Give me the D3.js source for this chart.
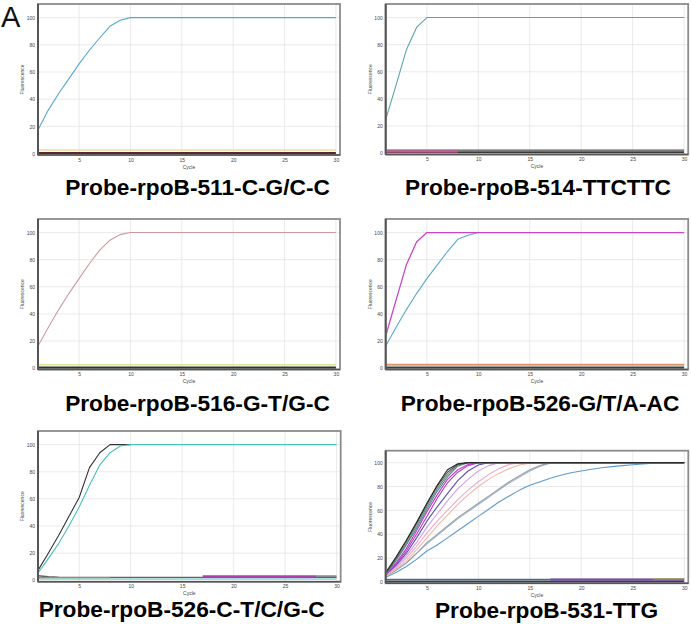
<!DOCTYPE html>
<html><head><meta charset="utf-8">
<script src="https://cdn.jsdelivr.net/npm/d3@7"></script>
<style>html,body{margin:0;padding:0;background:#fff;}svg{display:block;}</style>
</head><body>
<svg id="chart" width="691" height="624"></svg>
<script>
// ---------- data ----------
const cycles = [1,2,3,4,5,6,7,8,9,10,11,12,13,14,15,16,17,18,19,20,21,22,23,24,25,26,27,28,29,30];
const xTicks = [5,10,15,20,25,30];
const yTicks = [0,20,40,60,80,100];
const titles = ["Probe-rpoB-511-C-G/C-C","Probe-rpoB-514-TTCTTC","Probe-rpoB-516-G-T/G-C","Probe-rpoB-526-G/T/A-AC","Probe-rpoB-526-C-T/C/G-C","Probe-rpoB-531-TTG"];
const panelLetter = "A";
const xLabel = "Cycle", yLabel = "Fluorescence";
const _ = null;

// panel 1 (511)
const p1Blue    = [17.4,32,44,55,66,76,85,93.6,98,100,100,100,100,100,100,100,100,100,100,100,100,100,100,100,100,100,100,100,100,100];
const p1Khaki   = [2.8,2.7,2.7,2.7,2.7,2.7,2.7,2.7,2.7,2.7,2.7,2.7,2.7,2.7,2.7,2.7,2.7,2.7,2.7,2.7,2.7,2.7,2.7,2.7,2.7,2.7,2.7,2.7,2.7,2.7];
const p1Maroon  = [0.4,0.4,0.4,0.4,0.4,0.4,0.4,0.4,0.4,0.4,0.4,0.4,0.4,0.4,0.4,0.4,0.4,0.4,0.4,0.4,0.4,0.4,0.4,0.4,0.4,0.4,0.4,0.4,0.4,0.4];
// panel 2 (514)
const p2Teal    = [24.7,50,76,92.7,100,100,100,100,100,100,100,100,100,100,100,100,100,100,100,100,100,100,100,100,100,100,100,100,100,100];
const p2Gray    = [2.2,2.2,2.2,2.2,2.2,2.2,2.2,2.2,2.2,2.2,2.2,2.2,2.2,2.2,2.2,2.2,2.2,2.2,2.2,2.2,2.2,2.2,2.2,2.2,2.2,2.2,2.2,2.2,2.2,2.2];
const p2Dark    = [0.6,0.6,0.6,0.6,0.6,0.6,0.6,0.6,0.6,0.6,0.6,0.6,0.6,0.6,0.6,0.6,0.6,0.6,0.6,0.6,0.6,0.6,0.6,0.6,0.6,0.6,0.6,0.6,0.6,0.6];
const p2Pink    = [1.2,1.2,1.2,1.2,1.2,1.2,1.2,1.2,_,_,_,_,_,_,_,_,_,_,_,_,_,_,_,_,_,_,_,_,_,_];
// panel 3 (516)
const p3Rose    = [16.3,30,43,55,66,77,87,94.4,98.5,100,100,100,100,100,100,100,100,100,100,100,100,100,100,100,100,100,100,100,100,100];
const p3Yellow  = [2.6,2.5,2.5,2.5,2.5,2.5,2.5,2.5,2.5,2.5,2.5,2.5,2.5,2.5,2.5,2.5,2.5,2.5,2.5,2.5,2.5,2.5,2.5,2.5,2.5,2.5,2.5,2.5,2.5,2.5];
const p3Green   = [0.4,0.4,0.4,0.4,0.4,0.4,0.4,0.4,0.4,0.4,0.4,0.4,0.4,0.4,0.4,0.4,0.4,0.4,0.4,0.4,0.4,0.4,0.4,0.4,0.4,0.4,0.4,0.4,0.4,0.4];
// panel 4 (526 G/T/A)
const p4Magenta = [23.7,50,76,93,100,100,100,100,100,100,100,100,100,100,100,100,100,100,100,100,100,100,100,100,100,100,100,100,100,100];
const p4Blue    = [16.3,30,43,55,66,76,86,95,98,100,100,100,100,100,100,100,100,100,100,100,100,100,100,100,100,100,100,100,100,100];
const p4Salmon  = [2.8,2.8,2.8,2.8,2.8,2.8,2.8,2.8,2.8,2.8,2.8,2.8,2.8,2.8,2.8,2.8,2.8,2.8,2.8,2.8,2.8,2.8,2.8,2.8,2.8,2.8,2.8,2.8,2.8,2.8];
const p4Peach   = [2.1,2.1,2.1,2.1,2.1,2.1,2.1,2.1,2.1,2.1,2.1,2.1,2.1,2.1,2.1,2.1,2.1,2.1,2.1,2.1,2.1,2.1,2.1,2.1,2.1,2.1,2.1,2.1,2.1,2.1];
const p4Dark    = [0.4,0.4,0.4,0.4,0.4,0.4,0.4,0.4,0.4,0.4,0.4,0.4,0.4,0.4,0.4,0.4,0.4,0.4,0.4,0.4,0.4,0.4,0.4,0.4,0.4,0.4,0.4,0.4,0.4,0.4];
// panel 5 (526 C-T/C/G)
const p5Black   = [7.3,20,33,47,61,83,94,100,100,100,_,_,_,_,_,_,_,_,_,_,_,_,_,_,_,_,_,_,_,_];
const p5Teal    = [5.4,16,27,40,54,70,85,94,99,100,100,100,100,100,100,100,100,100,100,100,100,100,100,100,100,100,100,100,100,100];
const p5Brown   = [3.4,2.6,2.3,2.2,2.2,2.2,2.2,2.2,2.2,2.2,2.2,2.2,2.2,2.2,2.2,2.2,2.2,2.2,2.2,2.2,2.2,2.2,2.2,2.2,2.2,2.2,2.2,2.2,2.2,2.2];
const p5Olive   = [2.0,2.0,2.0,2.0,2.0,2.0,2.0,2.0,_,_,_,_,_,_,_,_,_,_,_,_,_,_,_,_,_,_,_,_,_,_];
const p5Teal2   = [1.0,1.0,1.0,1.0,1.0,1.0,1.0,1.0,1.0,1.0,1.0,1.0,1.0,1.0,1.0,1.0,1.0,1.0,1.0,1.0,1.0,1.0,1.0,1.0,1.0,1.0,1.0,1.0,1.0,1.0];
const p5Purple  = [_,_,_,_,_,_,_,_,_,_,_,_,_,_,_,_,3.0,3.0,3.0,3.0,3.0,3.0,3.0,3.0,3.0,3.0,3.0,3.0,_,_];
const p5Gray    = [_,_,_,_,_,_,_,_,_,_,_,_,_,_,_,_,_,_,_,_,_,_,_,_,_,_,_,3.1,3.1,3.1];
// panel 6 (531)
const p6Black   = [8,21,35,50,66,81,94,99,100,100,100,100,100,100,100,100,100,100,100,100,100,100,100,100,100,100,100,100,100,100];
const p6Dark    = [7,20,34,49,65,80,92,98.5,100,100,100,100,100,100,100,100,100,100,100,100,100,100,100,100,100,100,100,100,100,100];
const p6GrayGrn = [7,19,32,47,63,78,90,98,100,100,100,100,100,100,100,100,100,100,100,100,100,100,100,100,100,100,100,100,100,100];
const p6Teal    = [6,18,31,45,61,76,88,97,100,100,100,100,100,100,100,100,100,100,100,100,100,100,100,100,100,100,100,100,100,100];
const p6Magenta = [6,16,28,43,59,73,86,94,98.5,100,100,100,100,100,100,100,100,100,100,100,100,100,100,100,100,100,100,100,100,100];
const p6Violet  = [6,15,26,40,55,70,83,92,97.5,100,100,100,100,100,100,100,100,100,100,100,100,100,100,100,100,100,100,100,100,100];
const p6Slate   = [6,14,24,37,51,63,74,85,93,98,100,100,100,100,100,100,100,100,100,100,100,100,100,100,100,100,100,100,100,100];
const p6Lilac   = [6,13,22,33,46,57,68,78,86,93,97.5,100,100,100,100,100,100,100,100,100,100,100,100,100,100,100,100,100,100,100];
const p6Pink    = [5,12,20,30,41,51,60,69,77,84,90,95,98.5,100,100,100,100,100,100,100,100,100,100,100,100,100,100,100,100,100];
const p6Salmon  = [5,11,18,27,37,47,56,65,73,80,86,91,95,98,99.5,100,100,100,100,100,100,100,100,100,100,100,100,100,100,100];
const p6Gray    = [5,10,16,24,33,40,47,54,60,66,72,78,84,89,94,97.5,100,100,100,100,100,100,100,100,100,100,100,100,100,100];
const p6LtBlue  = [5,10,16,24,32,39,46,53,59,65,71,77,83,88,93,97,99.5,100,100,100,100,100,100,100,100,100,100,100,100,100];
const p6Steel   = [4,8,13,19,26,31,37,43,49,55,61,67,72,77,81,84,87,89.5,91.5,93,94.5,95.7,96.7,97.5,98.3,99,99.5,100,100,100];
const p6Base1   = [2.2,2.2,2.2,2.2,2.2,2.2,2.2,2.2,2.2,2.2,2.2,2.2,2.2,2.2,2.2,2.2,2.2,2.2,2.2,2.2,2.2,2.2,2.2,2.2,2.2,2.2,2.2,2.2,2.2,2.2];
const p6Base2   = [0.5,0.5,0.5,0.5,0.5,0.5,0.5,0.5,0.5,0.5,0.5,0.5,0.5,0.5,0.5,0.5,0.5,0.5,0.5,0.5,0.5,0.5,0.5,0.5,0.5,0.5,0.5,0.5,0.5,0.5];
const p6Purple  = [_,_,_,_,_,_,_,_,_,_,_,_,_,_,_,_,2.0,2.0,2.0,2.0,2.0,2.0,2.0,2.0,2.0,2.0,2.0,2.0,2.0,2.0];
const p6Olive   = [_,_,_,_,_,_,_,_,_,_,_,_,_,_,_,_,_,_,_,_,_,_,_,_,_,_,2.8,2.8,2.8,2.8];

// ---------- layout & style ----------
const panels = [
  {frame:[38,4,302,151], title:[197.5,195], series:[
    [p1Maroon,"#5a2430",2.2],[p1Khaki,"#f2dc98",1.6],[p1Blue,"#5aa6d0",1.1]]},
  {frame:[385.7,4,302.5,150.5], title:[538,195], series:[
    [p2Dark,"#3a3a3a",2],[p2Gray,"#555555",1.4],[p2Pink,"#e0509a",2],[p2Teal,"#5aa6aa",1.1]]},
  {frame:[38,219,302,150.5], title:[197.5,411], series:[
    [p3Green,"#263b26",2.2],[p3Yellow,"#dfe39a",1.6],[p3Rose,"#cf98a0",1.1]]},
  {frame:[385.7,219,302.5,150.5], title:[540,411], series:[
    [p4Dark,"#33443a",2.2],[p4Peach,"#f2b48c",1.6],[p4Salmon,"#e0906a",1.4],[p4Blue,"#5aa8d2",1.1],[p4Magenta,"#c845c8",1.3]]},
  {frame:[38,431,302.7,150.7], title:[181.7,617], series:[
    [p5Teal2,"#58b8c8",1.2],[p5Brown,"#6d6058",1.4],[p5Olive,"#7aa060",1.4],[p5Purple,"#b040b0",2],[p5Gray,"#8a8a8a",1.6],
    [p5Black,"#333333",1.1],[p5Teal,"#48c0c0",1.1]]},
  {frame:[385.7,450.7,302.6,132.6], title:[546.5,618], series:[
    [p6Base2,"#33414f",2.2],[p6Base1,"#4f6d80",1.4],[p6Purple,"#7a4fa8",2.2],[p6Olive,"#a6a070",1.6],
    [p6Steel,"#5d9bd0",1.1],[p6LtBlue,"#9bb8dc",1.1],[p6Gray,"#a0a0a0",1.1],[p6Salmon,"#f2b8a8",1.1],[p6Pink,"#f0a8c8",1.1],
    [p6Lilac,"#d6a0e2",1.1],[p6Slate,"#5a50b0",1.1],[p6Violet,"#a540c8",1.1],[p6Magenta,"#d838c8",1.2],
    [p6Teal,"#3a9a98",1.1],[p6GrayGrn,"#6a8878",1.1],[p6Dark,"#555555",1.1],[p6Black,"#2a2a2a",1.1]]}
];

const svg = d3.select("#chart");
const FONT = "'Liberation Sans', Arial, sans-serif";

svg.append("text").attr("x",1).attr("y",27).attr("font-family",FONT)
  .attr("font-size",29).attr("fill","#111").text(panelLetter);

panels.forEach((p,i) => {
  const [fx,fy,fw,fh] = p.frame;
  const x = d3.scaleLinear().domain([1,30.4]).range([fx,fx+fw]);
  const y = d3.scaleLinear().domain([-1,110]).range([fy+fh,fy]);
  const g = svg.append("g");
  g.append("rect").attr("x",fx).attr("y",fy).attr("width",fw).attr("height",fh).attr("fill","#fff");
  // grid
  g.selectAll(".gx").data(xTicks).join("line")
    .attr("x1",d=>x(d)).attr("x2",d=>x(d)).attr("y1",fy).attr("y2",fy+fh)
    .attr("stroke","#e4e4e4").attr("stroke-width",0.8);
  g.selectAll(".gy").data(yTicks.filter(d=>d>0)).join("line")
    .attr("x1",fx).attr("x2",fx+fw).attr("y1",d=>y(d)).attr("y2",d=>y(d))
    .attr("stroke","#e4e4e4").attr("stroke-width",0.8);
  // axes (tick labels)
  const xa = d3.axisBottom(x).tickValues(xTicks).tickSize(0).tickPadding(3);
  const ya = d3.axisLeft(y).tickValues(yTicks).tickSize(0).tickPadding(3);
  const gx = g.append("g").attr("transform",`translate(0,${fy+fh})`).call(xa);
  const gy = g.append("g").attr("transform",`translate(${fx},0)`).call(ya);
  [gx,gy].forEach(a => {
    a.select(".domain").remove();
    a.selectAll("text").attr("font-family",FONT).attr("font-size",5).attr("fill","#444");
  });
  g.append("text").attr("x",fx+fw/2).attr("y",fy+fh+13.5).attr("text-anchor","middle")
    .attr("font-family",FONT).attr("font-size",5).attr("fill","#444").text(xLabel);
  g.append("text").attr("transform",`translate(${fx-14},${fy+fh/2}) rotate(-90)`).attr("text-anchor","middle")
    .attr("font-family",FONT).attr("font-size",5).attr("fill","#444").text(yLabel);
  // clip
  const cid = "clip"+i;
  svg.append("clipPath").attr("id",cid).append("rect").attr("x",fx).attr("y",fy).attr("width",fw).attr("height",fh);
  const lg = g.append("g").attr("clip-path",`url(#${cid})`);
  const line = d3.line().defined(d=>d[1]!=null).x(d=>x(d[0])).y(d=>y(d[1]));
  p.series.forEach(([vals,color,w]) => {
    lg.append("path").datum(cycles.map((c,k)=>[c,vals[k]]))
      .attr("d",line).attr("fill","none").attr("stroke",color).attr("stroke-width",w)
      .attr("stroke-linejoin","round");
  });
  // frame
  g.append("rect").attr("x",fx).attr("y",fy).attr("width",fw).attr("height",fh)
    .attr("fill","none").attr("stroke","#8c8c8c").attr("stroke-width",1.8);
  g.append("line").attr("x1",fx).attr("x2",fx).attr("y1",fy).attr("y2",fy+fh)
    .attr("stroke","#555").attr("stroke-width",2);
  g.append("line").attr("x1",fx).attr("x2",fx+fw).attr("y1",fy+fh).attr("y2",fy+fh)
    .attr("stroke","#555").attr("stroke-width",1.6);
  // title
  svg.append("text").attr("x",p.title[0]).attr("y",p.title[1]).attr("text-anchor","middle")
    .attr("font-family",FONT).attr("font-weight","bold").attr("font-size",22.7).attr("fill","#000")
    .text(titles[i]);
});
</script>
</body></html>
